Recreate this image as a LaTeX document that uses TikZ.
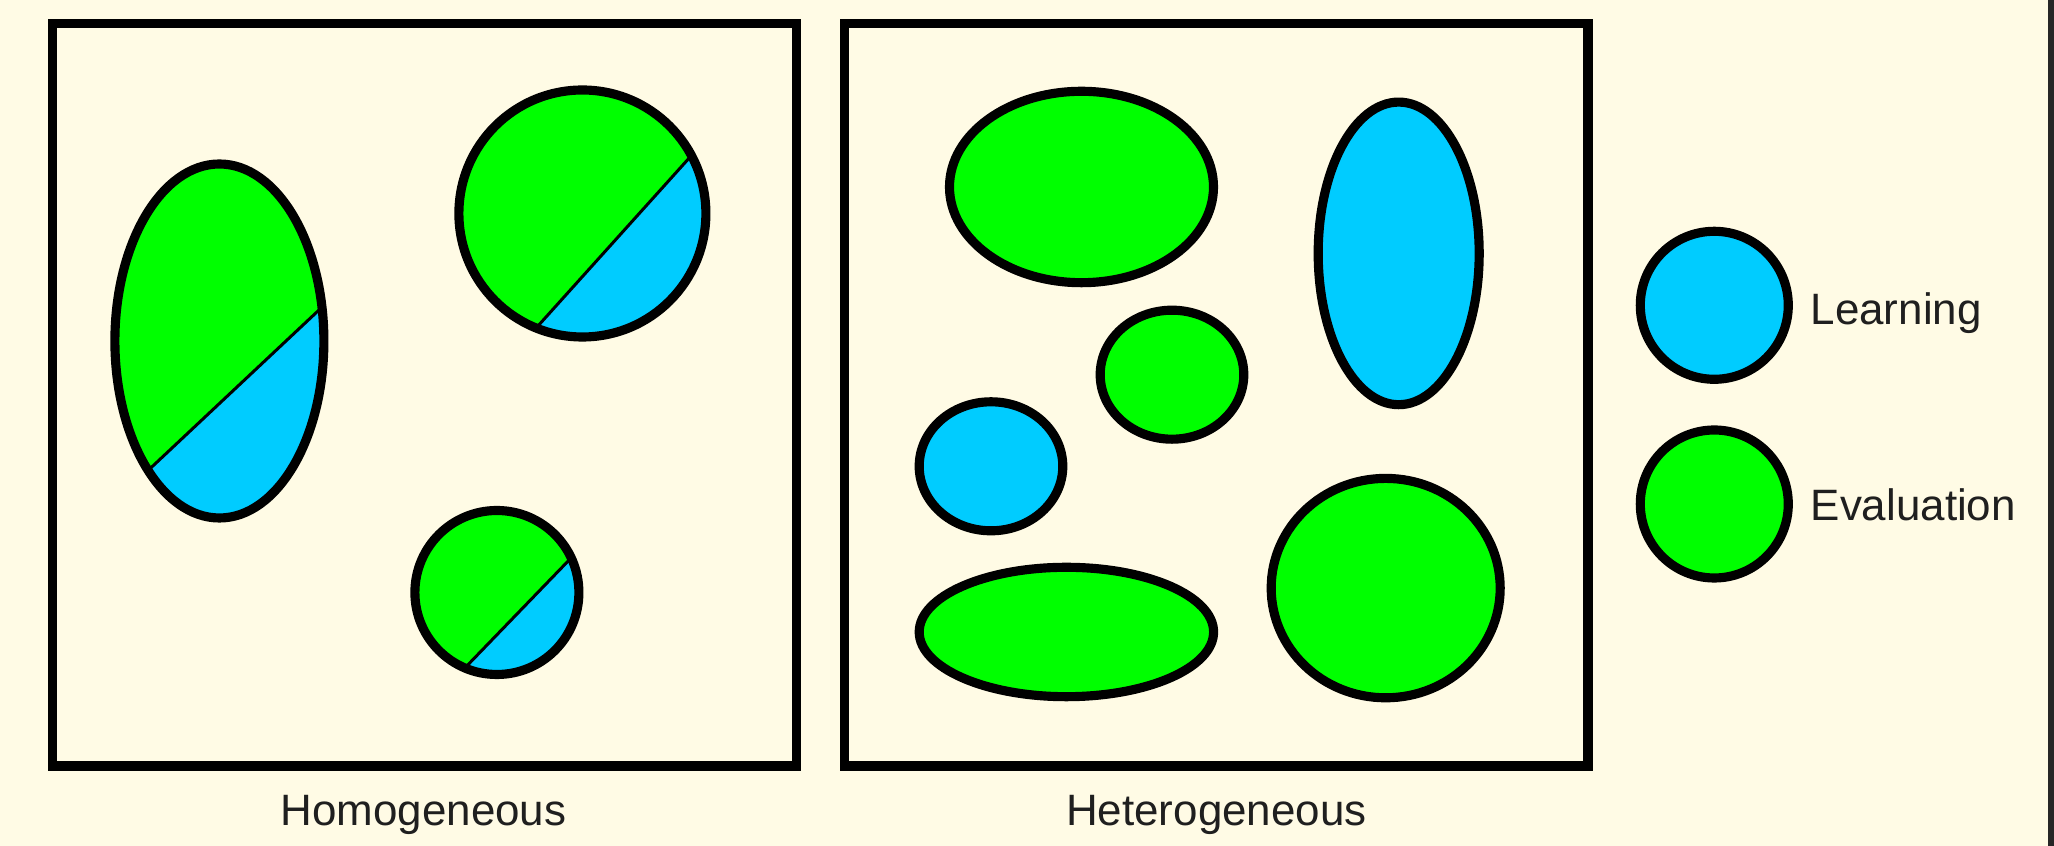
\documentclass[tikz,border=0pt]{standalone}
\usepackage{fontspec}
\setmainfont{Liberation Sans}
\usetikzlibrary{calc,positioning}
\definecolor{paper}{RGB}{255,251,229}
\definecolor{learnblue}{RGB}{0,204,255}
\definecolor{evalgreen}{RGB}{0,255,0}
\tikzset{
  panel/.style={line width=2.6pt},
  blob/.style={line width=2.6pt,draw=black},
  chord/.style={line width=0.85pt},
  key/.style={circle,draw=black,line width=2.6pt,minimum size=1.48cm,inner sep=0pt},   % legend discs
  lbl/.style={font=\fontsize{12.5}{14}\selectfont,text=black!88,inner sep=0pt},
}

\begin{document}
\begin{tikzpicture}
    \useasboundingbox (0,0) rectangle (20.54,8.46);
    \fill[paper] (0,0) rectangle (20.54,8.46);
    \fill[black!85] (20.48,0) rectangle (20.54,8.46);
    % ---------- left: homogeneous, every set split ----------
    \begin{scope}
      \draw[panel] (0.525,0.80) rectangle (7.965,8.225);
      % tall split ellipse
      \coordinate (s1) at (2.194,5.05);
      \coordinate (s1a) at ($(s1)+(227:1.045 and 1.77)$);
      \coordinate (s1b) at ($(s1)+(371:1.045 and 1.77)$);
      \fill[evalgreen] (s1) ellipse [x radius=1.045, y radius=1.77];
      \fill[learnblue] (s1a) arc [start angle=227, end angle=371, x radius=1.045, y radius=1.77] -- cycle;
      \draw[chord] (s1a) -- (s1b);
      \draw[blob] (s1) ellipse [x radius=1.045, y radius=1.77];
      % round split set, top right
      \coordinate (s2) at (5.824,6.325);
      \coordinate (s2a) at ($(s2)+(248:1.235)$);
      \coordinate (s2b) at ($(s2)+(388:1.235)$);
      \fill[evalgreen] (s2) circle (1.235);
      \fill[learnblue] (s2a) arc [start angle=248, end angle=388, radius=1.235] -- cycle;
      \draw[chord] (s2a) -- (s2b);
      \draw[blob] (s2) circle (1.235);
      % small split set, bottom
      \coordinate (s3) at (4.969,2.535);
      \coordinate (s3a) at ($(s3)+(247:0.82)$);
      \coordinate (s3b) at ($(s3)+(385:0.82)$);
      \fill[evalgreen] (s3) circle (0.82);
      \fill[learnblue] (s3a) arc [start angle=247, end angle=385, radius=0.82] -- cycle;
      \draw[chord] (s3a) -- (s3b);
      \draw[blob] (s3) circle (0.82);
      \node[lbl,anchor=base] (homlbl) at (4.235,0.203) {Homogeneous};
    \end{scope}
    % ---------- right: heterogeneous, one kind per set ----------
    \begin{scope}
      \draw[panel] (8.447,0.80) rectangle (15.88,8.225);
      \draw[blob,fill=evalgreen] (10.815,6.59) ellipse [x radius=1.32, y radius=0.957];
      \draw[blob,fill=learnblue] (13.987,5.926) ellipse [x radius=0.805, y radius=1.513];
      \draw[blob,fill=evalgreen] (11.72,4.713) ellipse [x radius=0.718, y radius=0.645];
      \draw[blob,fill=learnblue] (9.91,3.797) ellipse [x radius=0.718, y radius=0.645];
      \draw[blob,fill=evalgreen] (10.664,2.14) ellipse [x radius=1.472, y radius=0.647];
      \draw[blob,fill=evalgreen] (13.857,2.579) ellipse [x radius=1.145, y radius=1.097];
      \node[lbl,anchor=base] (hetlbl) at (12.164,0.203) {Heterogeneous};
    \end{scope}
    % ---------- legend ----------
    \node[key,fill=learnblue] (learnkey) at (17.143,5.407) {};
    \node[key,fill=evalgreen] (evalkey) at (17.143,3.42) {};
    \node[lbl,anchor=base west] (learntxt) at (18.1,5.21) {Learning};
    \node[lbl,anchor=base west] (evaltxt) at (18.1,3.253) {Evaluation};
  \end{tikzpicture}
\end{document}
